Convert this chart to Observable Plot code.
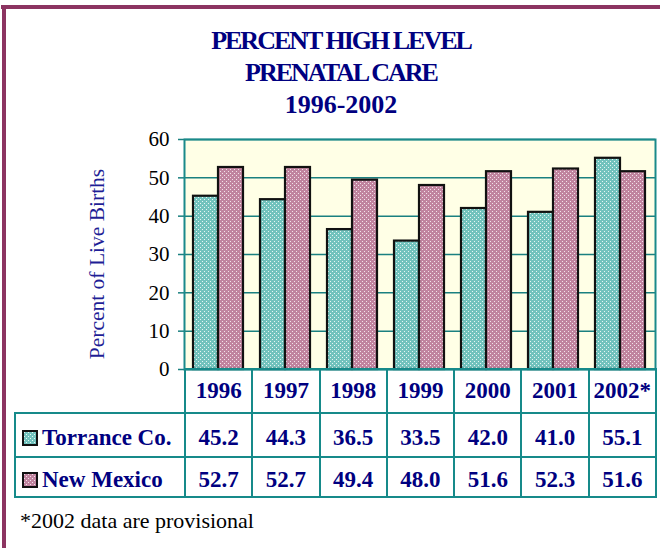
<!DOCTYPE html>
<html>
<head>
<meta charset="utf-8">
<script src="https://cdn.jsdelivr.net/npm/d3@7"></script>
<script src="https://cdn.jsdelivr.net/npm/@observablehq/plot@0.6"></script>
<style>
  html, body { margin: 0; padding: 0; background: #fff; }
  #wrap { position: relative; width: 660px; height: 548px; overflow: hidden; background: #fff; font-family: "Liberation Serif", "Times New Roman", serif; }
  .bar-top { position: absolute; left: 1px; top: 5px; width: 659px; height: 4px; background: #8c3461; }
  .bar-left { position: absolute; left: 2px; top: 5px; width: 4px; height: 543px; background: #8c3461; }
  #title { position: absolute; left: 0; top: 25px; width: 682px; text-align: center; color: #000080; font-weight: bold; font-size: 26px; line-height: 32px; }
  #title .cond { letter-spacing: -2px; }
  #ylab { position: absolute; left: 97px; top: 264px; transform: translate(-50%, -50%) rotate(-90deg); white-space: nowrap; color: #1e1e96; font-size: 21.5px; }
  #chart { position: absolute; left: 0; top: 123px; }
  #chart svg g[aria-label="y-axis tick"] path, #chart svg g[aria-label="y-axis"] path { stroke: #1a8080; stroke-width: 1.5; }
  #tbl { position: absolute; left: 14px; top: 368px; border-collapse: collapse; table-layout: fixed; }
  #tbl td { border: 2px solid #168a8a; color: #000080; font-weight: bold; font-size: 23px; text-align: center; vertical-align: middle; padding: 0; white-space: nowrap; }
  #tbl tr.data td { padding-top: 5px; }
  #tbl td.corner { border-top: none; border-left: none; }
  #tbl td.lab { text-align: left; padding-left: 6px; }
  #tbl svg { vertical-align: -1px; margin-right: 4px; }
  #note { position: absolute; left: 20px; top: 508px; font-size: 22px; color: #000; }
</style>
</head>
<body>
<svg width="0" height="0" style="position:absolute">
  <defs>
    <pattern id="patTeal" width="4" height="4" patternUnits="userSpaceOnUse">
      <rect width="4" height="4" fill="#72c2bd"></rect>
      <rect x="0" y="0" width="1" height="1" fill="#e6f6f4"></rect>
      <rect x="2" y="2" width="1" height="1" fill="#e6f6f4"></rect>
    </pattern>
    <pattern id="patMaroon" width="4" height="4" patternUnits="userSpaceOnUse">
      <rect width="4" height="4" fill="#c0849f"></rect>
      <rect x="0" y="0" width="1" height="1" fill="#f3e2ea"></rect>
      <rect x="2" y="2" width="1" height="1" fill="#f3e2ea"></rect>
    </pattern>
  </defs>
</svg>
<div id="wrap">
  <div class="bar-top"></div>
  <div class="bar-left"></div>
  <div id="title"></div>
  <div id="ylab"></div>
  <div id="chart"></div>
  <table id="tbl"></table>
  <div id="note"></div>
</div>
<script>
// ---- data ----
const titleLines = ["PERCENT HIGH LEVEL", "PRENATAL CARE", "1996-2002"];
const years = ["1996", "1997", "1998", "1999", "2000", "2001", "2002*"];
const torrance = [45.2, 44.3, 36.5, 33.5, 42.0, 41.0, 55.1];
const newMexico = [52.7, 52.7, 49.4, 48.0, 51.6, 52.3, 51.6];
const seriesNames = ["Torrance Co.", "New Mexico"];
const seriesFills = ["url(#patTeal)", "url(#patMaroon)"];
const yTicks = [0, 10, 20, 30, 40, 50, 60];
const yLabel = "Percent of Live Births";
const footnote = "*2002 data are provisional";

document.getElementById("title").innerHTML = titleLines
  .map((t, i) => "<div class='" + (i < 2 ? "cond" : "") + "'>" + t + "</div>").join("");
document.getElementById("ylab").textContent = yLabel;

const rows = years.map((year, i) => ({ year, torrance: torrance[i], newMexico: newMexico[i] }));

const chart = Plot.plot({
  width: 660,
  height: 252,
  marginLeft: 184,
  marginRight: 5,
  marginTop: 16,
  marginBottom: 6,
  style: { fontFamily: "'Liberation Serif', 'Times New Roman', serif", fontSize: "21px", background: "transparent", color: "#000", overflow: "visible" },
  x: { domain: years, padding: 0, axis: null },
  y: { domain: [0, 60], ticks: yTicks, tickSize: 6, tickPadding: 9, label: null },
  marks: [
    Plot.frame({ fill: "#ffffe6", stroke: "none" }),
    Plot.ruleY(yTicks, { stroke: "#1a8080", strokeWidth: 1.5 }),
    Plot.barY(rows, { x: "year", y: "torrance", fill: seriesFills[0], stroke: "#111", strokeWidth: 2.2, insetLeft: 8, insetRight: 34 }),
    Plot.barY(rows, { x: "year", y: "newMexico", fill: seriesFills[1], stroke: "#111", strokeWidth: 2.2, insetLeft: 33, insetRight: 9 }),
    Plot.frame({ stroke: "#1a8a8a", strokeWidth: 2 })
  ]
});
document.getElementById("chart").appendChild(chart);

// ---- table aligned to x scale ----
const xs = chart.scale("x");
const step = (xs.range[1] - xs.range[0]) / years.length;
const firstW = xs.range[0] - 14;
const tbl = document.getElementById("tbl");
let html = "<colgroup><col style='width:" + firstW + "px'>" + years.map(() => "<col style='width:" + step + "px'>").join("") + "</colgroup>";
html += "<tr style='height:44px'><td class='corner'></td>" + years.map(y => "<td>" + y + "</td>").join("") + "</tr>";
const series = [torrance, newMexico];
series.forEach((vals, si) => {
  const swatch = "<svg width='16' height='16'><rect x='1' y='1' width='14' height='14' fill='" + seriesFills[si] + "' stroke='#111' stroke-width='2'></rect></svg>";
  html += "<tr class='data' style='height:" + (si === 0 ? 44 : 40) + "px'><td class='lab'>" + swatch + seriesNames[si] + "</td>" +
    vals.map(v => "<td>" + v.toFixed(1) + "</td>").join("") + "</tr>";
});
tbl.innerHTML = html;
document.getElementById("note").textContent = footnote;
</script>
</body>
</html>
